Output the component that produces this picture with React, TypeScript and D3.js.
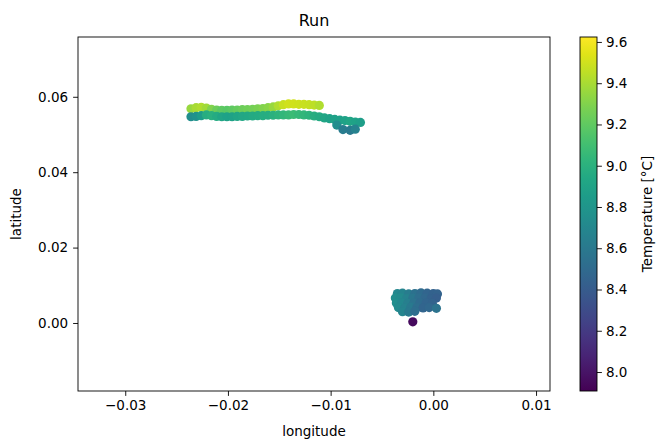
import React, { useEffect, useRef } from 'react';
import * as d3 from 'd3';

// upper track (northern row, warmer)
const upperLon = [-0.0236, -0.0231, -0.0226, -0.0221, -0.0216, -0.0211, -0.0206, -0.0201, -0.0196, -0.0191, -0.0186, -0.0181, -0.0176, -0.0171, -0.0166, -0.0161, -0.0156, -0.0151, -0.0146, -0.0141, -0.0136, -0.0131, -0.0126, -0.0121, -0.0116, -0.0111];
const upperLat = [0.0568, 0.0571, 0.0572, 0.0570, 0.0567, 0.0565, 0.0564, 0.0564, 0.0565, 0.0565, 0.0566, 0.0566, 0.0567, 0.0568, 0.0569, 0.0571, 0.0573, 0.0576, 0.0579, 0.0581, 0.0581, 0.0580, 0.0580, 0.0579, 0.0578, 0.0577];
const upperTemp = [9.36, 9.40, 9.42, 9.38, 9.30, 9.24, 9.20, 9.18, 9.20, 9.22, 9.24, 9.25, 9.26, 9.28, 9.30, 9.32, 9.36, 9.42, 9.48, 9.50, 9.50, 9.49, 9.48, 9.47, 9.45, 9.42];

// lower track (southern row)
const lowerLon = [-0.0236, -0.0231, -0.0226, -0.0221, -0.0216, -0.0211, -0.0206, -0.0201, -0.0196, -0.0191, -0.0186, -0.0181, -0.0176, -0.0171, -0.0166, -0.0161, -0.0156, -0.0151, -0.0146, -0.0141, -0.0136, -0.0131, -0.0126, -0.0121, -0.0116, -0.0111, -0.0106, -0.0101, -0.0096, -0.0091, -0.0086, -0.0081, -0.0076, -0.0071];
const lowerLat = [0.0547, 0.0548, 0.0550, 0.0552, 0.0550, 0.0548, 0.0547, 0.0547, 0.0547, 0.0548, 0.0548, 0.0549, 0.0549, 0.0550, 0.0550, 0.0551, 0.0551, 0.0552, 0.0552, 0.0552, 0.0553, 0.0553, 0.0552, 0.0551, 0.0549, 0.0547, 0.0544, 0.0542, 0.0540, 0.0538, 0.0537, 0.0535, 0.0533, 0.0532];
const lowerTemp = [8.75, 8.78, 8.85, 8.98, 9.00, 8.96, 8.92, 8.90, 8.90, 8.92, 8.93, 8.94, 8.95, 8.96, 8.97, 8.98, 9.00, 9.02, 9.04, 9.06, 9.08, 9.06, 9.04, 9.02, 8.98, 8.95, 8.92, 8.90, 8.88, 8.88, 8.90, 8.92, 8.90, 8.86];

// stragglers near the east end of the track
const tailLon = [-0.0094, -0.0088, -0.0081, -0.0076];
const tailLat = [0.0525, 0.0513, 0.0511, 0.0514];
const tailTemp = [8.75, 8.62, 8.60, 8.66];

// southern cluster near the origin
const clusterLon = [
  -0.0035, -0.0030, -0.0024, -0.0018, -0.0012, -0.0006, 0.0000, 0.0004,
  -0.0037, -0.0032, -0.0026, -0.0020, -0.0014, -0.0008, -0.0002, 0.0003,
  -0.0036, -0.0031, -0.0025, -0.0019, -0.0013, -0.0007, -0.0001,
  -0.0034, -0.0028, -0.0022, -0.0016, -0.0010, -0.0004, 0.0003,
  -0.0030, -0.0024, -0.0018,
  -0.0020];
const clusterLat = [
  0.0078, 0.0079, 0.0077, 0.0078, 0.0080, 0.0079, 0.0078, 0.0077,
  0.0066, 0.0067, 0.0065, 0.0066, 0.0067, 0.0066, 0.0065, 0.0066,
  0.0053, 0.0054, 0.0052, 0.0053, 0.0054, 0.0053, 0.0052,
  0.0041, 0.0040, 0.0042, 0.0041, 0.0040, 0.0041, 0.0039,
  0.0030, 0.0029, 0.0031,
  0.0003];
const clusterTemp = [
  8.70, 8.68, 8.62, 8.55, 8.50, 8.46, 8.44, 8.45,
  8.74, 8.72, 8.66, 8.58, 8.52, 8.48, 8.44, 8.42,
  8.75, 8.70, 8.64, 8.56, 8.50, 8.46, 8.45,
  8.72, 8.66, 8.60, 8.52, 8.46, 8.48, 8.56,
  8.68, 8.60, 8.52,
  7.95];

const xTicks = [-0.03, -0.02, -0.01, 0.0, 0.01];
const yTicks = [0.0, 0.02, 0.04, 0.06];
const cTicks = [8.0, 8.2, 8.4, 8.6, 8.8, 9.0, 9.2, 9.4, 9.6];

export default function App() {
  const ref = useRef<SVGSVGElement>(null);

  useEffect(() => {
    const svg = d3.select(ref.current);
    svg.selectAll('*').remove();

    const left = 78, right = 550, top = 37, bottom = 391;
    const x = d3.scaleLinear().domain([-0.0346, 0.01136]).range([left, right]);
    const y = d3.scaleLinear().domain([-0.01804, 0.07586]).range([bottom, top]);
    const cmin = 7.908, cmax = 9.624;
    const color = d3.scaleSequential(d3.interpolateViridis).domain([cmin, cmax]);

    const pts: { lon: number; lat: number; t: number }[] = [];
    const add = (lo: number[], la: number[], te: number[]) => lo.forEach((v, i) => pts.push({ lon: v, lat: la[i], t: te[i] }));
    add(upperLon, upperLat, upperTemp);
    add(lowerLon, lowerLat, lowerTemp);
    add(tailLon, tailLat, tailTemp);
    add(clusterLon, clusterLat, clusterTemp);

    svg.append('g')
      .selectAll('circle')
      .data(pts)
      .join('circle')
      .attr('cx', d => x(d.lon))
      .attr('cy', d => y(d.lat))
      .attr('r', 4.6)
      .attr('fill', d => color(d.t));

    const font = 'DejaVu Sans, sans-serif';

    svg.append('rect')
      .attr('x', left).attr('y', top)
      .attr('width', right - left).attr('height', bottom - top)
      .attr('fill', 'none').attr('stroke', '#000').attr('stroke-width', 0.9);

    const xAxis = svg.append('g')
      .attr('transform', `translate(0,${bottom})`)
      .call(d3.axisBottom(x).tickValues(xTicks).tickFormat(d3.format('.2f')).tickSize(4.9).tickPadding(5));
    xAxis.select('.domain').remove();

    const yAxis = svg.append('g')
      .attr('transform', `translate(${left},0)`)
      .call(d3.axisLeft(y).tickValues(yTicks).tickFormat(d3.format('.2f')).tickSize(4.9).tickPadding(5));
    yAxis.select('.domain').remove();

    svg.selectAll('.tick text').attr('font-size', 13.5).attr('font-family', font).attr('fill', '#000');
    svg.selectAll('.tick line').attr('stroke', '#000').attr('stroke-width', 0.9);

    svg.append('text')
      .attr('x', (left + right) / 2).attr('y', 436)
      .attr('text-anchor', 'middle').attr('font-size', 13.5).attr('font-family', font)
      .text('longitude');

    svg.append('text')
      .attr('transform', `translate(21,${(top + bottom) / 2}) rotate(-90)`)
      .attr('text-anchor', 'middle').attr('font-size', 13.5).attr('font-family', font)
      .text('latitude');

    svg.append('text')
      .attr('x', (left + right) / 2).attr('y', 26)
      .attr('text-anchor', 'middle').attr('font-size', 16).attr('font-family', font)
      .text('Run');

    // colorbar
    const cbX = 580, cbW = 17, cbTop = 37, cbBottom = 391;
    const cy = d3.scaleLinear().domain([cmin, cmax]).range([cbBottom, cbTop]);
    const grad = svg.append('defs').append('linearGradient')
      .attr('id', 'viridisGrad').attr('x1', 0).attr('y1', 1).attr('x2', 0).attr('y2', 0);
    d3.range(0, 1.0001, 0.05).forEach(s => {
      grad.append('stop').attr('offset', s).attr('stop-color', d3.interpolateViridis(s));
    });
    svg.append('rect')
      .attr('x', cbX).attr('y', cbTop).attr('width', cbW).attr('height', cbBottom - cbTop)
      .attr('fill', 'url(#viridisGrad)').attr('stroke', '#000').attr('stroke-width', 0.9);

    const cAxis = svg.append('g')
      .attr('transform', `translate(${cbX + cbW},0)`)
      .call(d3.axisRight(cy).tickValues(cTicks).tickFormat(d3.format('.1f')).tickSize(4.9).tickPadding(4));
    cAxis.select('.domain').remove();
    cAxis.selectAll('.tick text').attr('font-size', 13.5).attr('font-family', font).attr('fill', '#000');
    cAxis.selectAll('.tick line').attr('stroke', '#000').attr('stroke-width', 0.9);

    svg.append('text')
      .attr('transform', `translate(652,${(cbTop + cbBottom) / 2}) rotate(-90)`)
      .attr('text-anchor', 'middle').attr('font-size', 13.5).attr('font-family', font)
      .text('Temperature [°C]');
  }, []);

  return (
    <svg ref={ref} width={658} height={443}
      style={{ position: 'absolute', left: 0, top: 0, background: '#fff' }} />
  );
}
